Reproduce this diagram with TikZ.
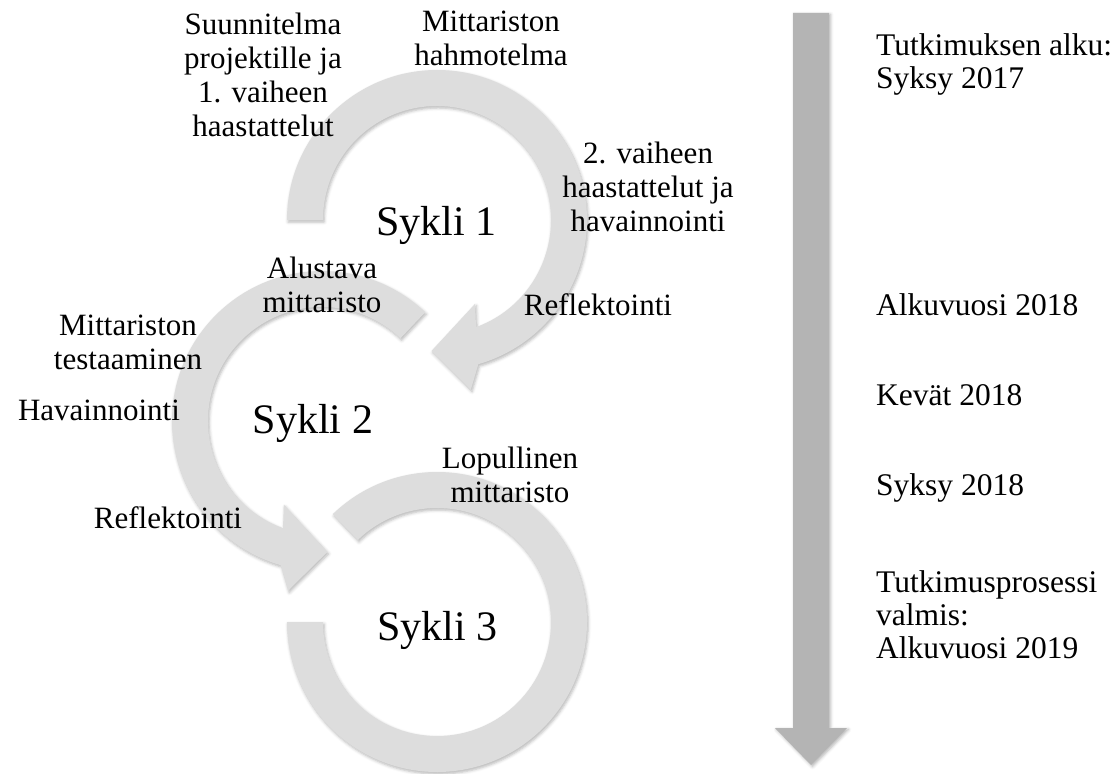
\documentclass[tikz,border=0pt]{standalone}
\usepackage{fontspec}
\setmainfont{Liberation Serif}
\usetikzlibrary{calc,shadows.blur}

\definecolor{ringgray}{HTML}{DDDDDD}
\definecolor{timegray}{HTML}{B4B4B4}

\tikzset{
  ring/.style={fill=ringgray, draw=none,
    blur shadow={shadow xshift=1.2pt, shadow yshift=-2pt, shadow blur radius=3pt, shadow opacity=28}},
  timearrow/.style={fill=timegray, draw=none,
    blur shadow={shadow xshift=1.5pt, shadow yshift=-1.5pt, shadow blur radius=3pt, shadow opacity=30}},
  label/.style={font=\fontsize{31}{34}\selectfont, align=center, inner sep=0pt},
  cyclename/.style={font=\fontsize{42}{48}\selectfont, inner sep=0pt},
  timelabel/.style={font=\fontsize{31.5}{33}\selectfont, align=left, anchor=west, inner sep=0pt},
}

\begin{document}
\begin{tikzpicture}[x=1pt, y=-1pt]
\useasboundingbox (0,0) rectangle (1118,773);

% centres of the three cycles
\coordinate (c1) at (437,220);
\coordinate (c2) at (322,421);
\coordinate (c3) at (437,622);

% Cycle 1: clockwise ring ending in an arrowhead at the bottom
\path[ring] ($(c1)+(180:150)$) arc[start angle=180, end angle=434, radius=150]
  -- ($(c1)+(78.7:173)$) -- ($(c1)+(92.4:131)$) -- ($(c1)+(65.5:92)$)
  -- ($(c1)+(70:114)$) arc[start angle=70, end angle=-180, radius=114] -- cycle;

% Cycle 2: counter-clockwise ring, mirrored arrowhead
\path[ring] ($(c2)+(-46.5:150)$) arc[start angle=-46.5, end angle=-254, radius=150]
  -- ($(c2)+(101.3:173)$) -- ($(c2)+(87.6:131)$) -- ($(c2)+(114.5:92)$)
  -- ($(c2)+(110:114)$) arc[start angle=110, end angle=313.5, radius=114] -- cycle;

% Cycle 3: open ring without arrowhead
\path[ring] ($(c3)+(-134:150)$) arc[start angle=-134, end angle=180, radius=150]
  -- ($(c3)+(180:114)$) arc[start angle=180, end angle=-134, radius=114] -- cycle;

% time line
\path[timearrow] (793,13) -- (829,13) -- (829,728) -- (847,728) -- (811,765)
  -- (775,728) -- (793,728) -- cycle;

% cycle names
\node[cyclename] (s1) at (436.5,225) {Sykli 1};
\node[cyclename] (s2) at (313,423) {Sykli 2};
\node[cyclename] (s3) at (437.5,630) {Sykli 3};

% phase labels
\node[label] (suun) at (263,75) {Suunnitelma\\projektille ja\\1. vaiheen\\haastattelut};
\node[label] (hahm) at (491,38) {Mittariston\\hahmotelma};
\node[label] (vaihe2) at (648,187) {2. vaiheen\\haastattelut ja\\havainnointi};
\node[label] (alust) at (322,285) {Alustava\\mittaristo};
\node[label] (refl1) at (598,305) {Reflektointi};
\node[label] (testa) at (128,342) {Mittariston\\testaaminen};
\node[label] (havai) at (99,410) {Havainnointi};
\node[label] (lopul) at (510,475) {Lopullinen\\mittaristo};
\node[label] (refl2) at (168,518) {Reflektointi};

% dates along the time line
\node[timelabel, anchor=base west] (t1) at (876,88.3) {Tutkimuksen alku:\\Syksy 2017};
\node[timelabel] (t2) at (876,305) {Alkuvuosi 2018};
\node[timelabel] (t3) at (876,395) {Kevät 2018};
\node[timelabel] (t4) at (876,488) {Syksy 2018};
\node[timelabel] (t5) at (876,615) {Tutkimusprosessi\\valmis:\\Alkuvuosi 2019};
\end{tikzpicture}
\end{document}
